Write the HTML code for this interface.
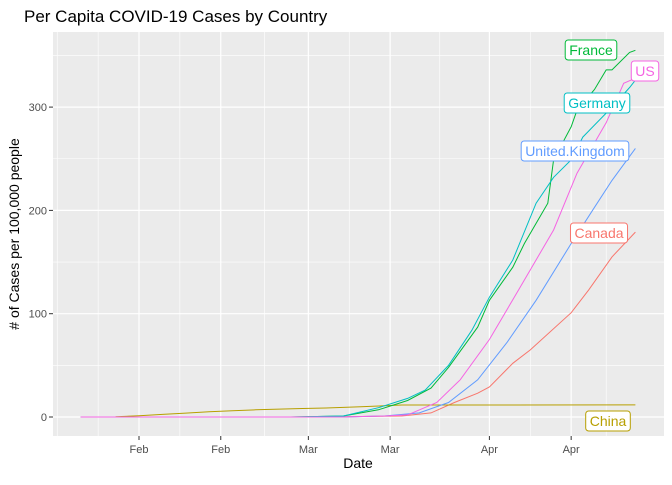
<!DOCTYPE html>
<html><head><meta charset="utf-8">
<style>
body{margin:0;background:#fff;font-family:"Liberation Sans",Arial,sans-serif;}
svg text{font-family:"Liberation Sans",Arial,sans-serif;}
</style></head><body>
<svg id="chart" width="672" height="480" xmlns="http://www.w3.org/2000/svg">
<text x="24" y="22" font-size="17" fill="#000">Per Capita COVID-19 Cases by Country</text>
<rect x="53" y="32" width="611" height="404" fill="#ebebeb"/>
<g id="grid"></g>
<g id="series"></g>
<g id="labels"></g>
<g id="axes"></g>
<text x="358" y="468" font-size="14" text-anchor="middle" fill="#000">Date</text>
<text transform="translate(19,234) rotate(-90)" font-size="14" text-anchor="middle" fill="#000"># of Cases per 100,000 people</text>
</svg>
<script>
const countries=["Canada","China","France","Germany","United.Kingdom","US"];
const colors=["#F8766D","#B79F00","#00BA38","#00BFC4","#619CFF","#F564E3"];
const canadaDays=[0,40,55,60,64,68,70,74,77,84,87,91,95];
const canadaVals=[0,0,1,4,14,23,29,52,65,101,123,155,179];
const chinaDays=[6,10,14,18,22,26,30,34,38,42,48,55,95];
const chinaVals=[0.3,1.2,2.5,3.8,5,6,7,7.6,8.2,8.7,10,11.6,11.7];
const franceDays=[0,36,45,51,56,60,63,68,70,74,76,80,81,84,85,88,90,91,94,95];
const franceVals=[0,0,1,7,16,28,48,87,113,145,168,207,249,281,297,317,336,336,353,355];
const germanyDays=[0,36,45,51,56,59,63,67,70,74,78,81,84,86,91,94,95];
const germanyVals=[0,0,1,9,18,26,50,84,116,152,207,232,249,271,300,319,326];
const ukDays=[0,45,52,58,63,68,73,78,84,88,91,95];
const ukVals=[0,0,1,4,14,36,72,113,168,203,229,260];
const usDays=[0,45,52,56,61,65,70,75,81,85,90,93,95];
const usVals=[0,0,1,2,14,36,75,123,181,236,285,323,328];
const seriesDays=[canadaDays,chinaDays,franceDays,germanyDays,ukDays,usDays];
const seriesVals=[canadaVals,chinaVals,franceVals,germanyVals,ukVals,usVals];
const yTicks=[0,100,200,300];
const xTickDays=[10,24,39,53,70,84];
const xTickLabels=["Feb","Feb","Mar","Mar","Apr","Apr"];
const xMinorDays=[-4,3,17,31.5,46,61.5,77,90];
const labelPos=[[599,233],[608,421],[591,50],[597,103],[575,151],[645,71]];

const NS="http://www.w3.org/2000/svg";
const X=d=>80.6+d*5.84;
const Y=v=>417-v*1.033;
function mk(tag,attrs,parent){const e=document.createElementNS(NS,tag);for(const k in attrs)e.setAttribute(k,attrs[k]);parent.appendChild(e);return e;}
const grid=document.getElementById('grid'),ser=document.getElementById('series'),lab=document.getElementById('labels'),ax=document.getElementById('axes');
for(let v=50;v<=350;v+=100){const l=mk('line',{x1:53,x2:664,y1:Y(v),y2:Y(v),stroke:'#fff','stroke-width':0.6},grid);

}
xMinorDays.forEach(d=>{const l=mk('line',{x1:X(d),x2:X(d),y1:32,y2:436,stroke:'#fff','stroke-width':0.6},grid);

});
yTicks.forEach(v=>{const l=mk('line',{x1:53,x2:664,y1:Y(v),y2:Y(v),stroke:'#fff','stroke-width':1.2},grid);


const t=mk('line',{x1:49,x2:53,y1:Y(v),y2:Y(v),stroke:'#333','stroke-width':1},ax);


const tx=mk('text',{x:47,y:Y(v)+4,'font-size':11,'text-anchor':'end',fill:'#4d4d4d'},ax);tx.textContent=v;

});
xTickDays.forEach((d,i)=>{const l=mk('line',{x1:X(d),x2:X(d),y1:32,y2:436,stroke:'#fff','stroke-width':1.2},grid);


const t=mk('line',{x1:X(d),x2:X(d),y1:436,y2:440,stroke:'#333','stroke-width':1},ax);


const tx=mk('text',{x:X(d),y:453,'font-size':11,'text-anchor':'middle',fill:'#4d4d4d'},ax);tx.textContent=xTickLabels[i];

});
countries.forEach((c,i)=>{
const pts=seriesDays[i].map((d,j)=>X(d).toFixed(1)+','+Y(seriesVals[i][j]).toFixed(1)).join(' ');
const p=mk('polyline',{points:pts,fill:'none',stroke:colors[i],'stroke-width':1},ser);


const [cx,cy]=labelPos[i];
const g=mk('g',{},lab);


const t=mk('text',{x:cx,y:cy+5,'font-size':14,'text-anchor':'middle',fill:colors[i]},g);t.textContent=c;
const w=t.getComputedTextLength();
const r=mk('rect',{x:cx-w/2-4,y:cy-10,width:w+8,height:20,rx:3,fill:'#fff',stroke:colors[i],'stroke-width':1},g);
g.insertBefore(r,t);
});
</script>
</body></html>
